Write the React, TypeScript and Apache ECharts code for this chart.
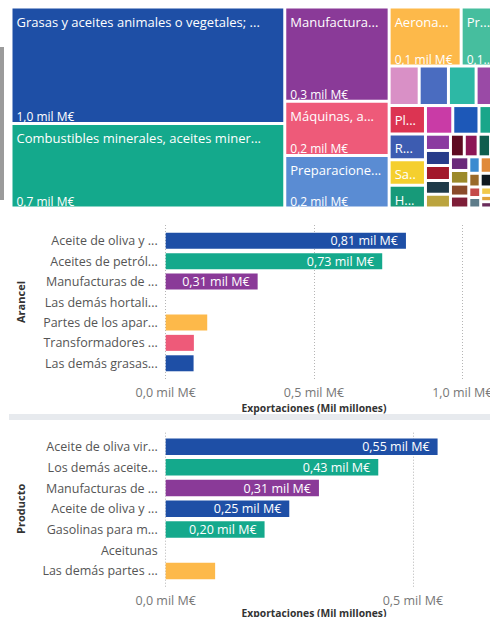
import React, { useEffect, useRef } from 'react';
import * as echarts from 'echarts';

// ---------- Treemap (capítulos) ----------
const treemapNames = [
  'Grasas y aceites animales o vegetales; ...',
  'Combustibles minerales, aceites miner...',
  'Manufactura...',
  'Máquinas, a...',
  'Preparacione...',
  'Aerona...',
  'Pr...',
  'Frutas y frutos comestibles',
  'Fundición, hierro y acero',
  'Cobre y sus manufacturas',
  'Productos químicos inorgánicos',
  'Pl...',
  'R...',
  'Sa...',
  'H...',
  'Vehículos automóviles',
  'Aluminio y sus manufacturas',
  'Papel y cartón',
  'Muebles',
  'Bebidas',
  'Conservas de carne o pescado',
  'Semillas y frutos oleaginosos',
  'Instrumentos de óptica',
  'Caucho y sus manufacturas',
  'Vidrio y sus manufacturas',
  'Jabones',
  'Abonos',
  'Prendas de vestir',
  'Cereales',
  'Pescados',
  'Cacao',
  'Azúcares',
  'Café, té y especias',
  'Juguetes',
  'Calzado',
  'Lana',
  'Algodón',
  'Tabaco',
  'Leche y productos lácteos',
  'Corcho',
  'Manufacturas de cuero',
  'Pieles y cueros',
  'Productos farmacéuticos',
  'Tejidos de punto',
];
const treemapValues = [
  1.02, 0.74, 0.315, 0.181, 0.175, 0.136, 0.079, 0.038, 0.037, 0.035, 0.034,
  0.033, 0.03, 0.0295, 0.0265, 0.025, 0.024, 0.022,
  0.013, 0.012, 0.012, 0.011, 0.011, 0.01, 0.01, 0.009, 0.009, 0.008, 0.008,
  0.007, 0.007, 0.006, 0.006, 0.006, 0.005, 0.005, 0.005, 0.004, 0.004, 0.004,
  0.003, 0.003, 0.003, 0.002,
];
const treemapLabelled = [
  'Grasas y aceites animales o vegetales; ...',
  'Combustibles minerales, aceites miner...',
  'Manufactura...',
  'Máquinas, a...',
  'Preparacione...',
  'Aerona...',
  'Pr...',
  'Pl...',
  'R...',
  'Sa...',
  'H...',
];

// ---------- Bar charts ----------
const arancelCategories = [
  'Aceite de oliva y ...',
  'Aceites de petról...',
  'Manufacturas de ...',
  'Las demás hortali...',
  'Partes de los apar...',
  'Transformadores ...',
  'Las demás grasas...',
];
const arancelValues = [0.81, 0.73, 0.31, 0, 0.14, 0.095, 0.094];

const productoCategories = [
  'Aceite de oliva vir...',
  'Los demás aceite...',
  'Manufacturas de ...',
  'Aceite de oliva y ...',
  'Gasolinas para m...',
  'Aceitunas',
  'Las demás partes ...',
];
const productoValues = [0.55, 0.43, 0.31, 0.25, 0.2, 0, 0.1];

// ---------- Styles ----------
const BLUE = '#1E4FA6';
const TEAL = '#14A98C';
const PURPLE = '#8A3A98';
const PINK = '#EE5A79';
const LIGHTBLUE = '#5A8CD3';
const YELLOW = '#FDB94A';
const CLEAR = 'rgba(0,0,0,0)';

const treemapColors = [
  BLUE, TEAL, PURPLE, PINK, LIGHTBLUE, YELLOW, '#46BE9E', '#D990C6', '#4A6CC0',
  '#2DB8A5', '#9A4AA6', '#DC3452', '#3D5CB1', '#F5CF2E', '#179A79', '#C93BA6',
  '#1D58B8', '#19A68A', '#8B3AA0', '#A2182B', '#273C8A', '#BBA43F', '#1F3A48',
  '#8C1656', '#5D0B22', '#1F2D6B', '#0E5E4E', '#9C8A2A', '#6A2A7A', '#7E1E38',
  '#8A4A2A', '#2E3A5E', '#E08A3A', '#3A8AD0', '#D04A8A', '#101820', '#9A6A2A',
  '#F2C94C', '#5E7C8A', '#C44A4A', '#2F8F6F', '#6B2D5C', '#E2A33B', '#4E5D9C',
];
const arancelColors = [BLUE, TEAL, PURPLE, LIGHTBLUE, YELLOW, PINK, BLUE];
const productoColors = [BLUE, TEAL, PURPLE, BLUE, TEAL, LIGHTBLUE, YELLOW];

const FONT = "'Segoe UI', 'Open Sans', sans-serif";
const PLOT_LEFT = 165.7;
const PLOT_RIGHT = 462.3;
const WIDTH = 490;

const fmt1 = (v: number) => `${v.toFixed(1).replace('.', ',')} mil M€`;
const fmt2 = (v: number) => `${v.toFixed(2).replace('.', ',')} mil M€`;

export default function App() {
  const ref = useRef<HTMLDivElement>(null);

  useEffect(() => {
    if (!ref.current) return;
    const chart = echarts.init(ref.current, null, { renderer: 'svg' });
    const labelled = new Set(treemapLabelled);
    const plotW = PLOT_RIGHT - PLOT_LEFT;
    const prodMax = 0.6;

    const treemapBox = { left: 12.5, top: 8.5, width: 489, height: 198 };
    const axisNameStyle = { fontWeight: 'bold', fontSize: 10.3, color: '#333', fontFamily: FONT };
    const catLabel = { color: '#555', fontSize: 12.5, margin: 8, fontFamily: FONT };
    const tickLabel = { formatter: (v: number) => fmt1(v), color: '#777', fontSize: 12.5, margin: 6, fontFamily: FONT };
    const dotted = { show: true, lineStyle: { type: [1, 2], color: '#B5B5B5', width: 1 } };
    const hidden = { show: false };

    const option: any = {
      animation: false,
      backgroundColor: '#fff',
      textStyle: { fontFamily: FONT },
      graphic: [
        { type: 'rect', shape: { x: 0, y: 47, width: 4, height: 153 }, style: { fill: '#9B9B9B' }, silent: true },
        { type: 'rect', shape: { x: 9, y: 414, width: WIDTH - 9, height: 6 }, style: { fill: '#E7EAEE' }, silent: true },
      ],
      grid: [
        { left: PLOT_LEFT, right: WIDTH - PLOT_RIGHT, top: 230.5, height: 143, outerBoundsMode: 'none', containLabel: false },
        { left: PLOT_LEFT, right: WIDTH - PLOT_RIGHT, top: 225, height: 155, outerBoundsMode: 'none', containLabel: false },
        { left: PLOT_LEFT, right: WIDTH - PLOT_RIGHT, top: 436.3, height: 145, outerBoundsMode: 'none', containLabel: false },
        { left: PLOT_LEFT, width: (plotW * 0.5) / prodMax, top: 432.7, height: 155.5, outerBoundsMode: 'none', containLabel: false },
      ],
      xAxis: [
        {
          gridIndex: 0, type: 'value', min: 0, max: 1,
          axisLine: hidden, axisTick: hidden, axisLabel: hidden, splitLine: hidden,
          name: 'Exportaciones (Mil millones)', nameLocation: 'middle', nameGap: 29.5, nameTextStyle: axisNameStyle,
        },
        {
          gridIndex: 1, type: 'value', min: 0, max: 1, interval: 0.5,
          axisLine: hidden, axisTick: hidden, axisLabel: tickLabel, splitLine: dotted,
        },
        {
          gridIndex: 2, type: 'value', min: 0, max: prodMax,
          axisLine: hidden, axisTick: hidden, axisLabel: hidden, splitLine: hidden,
          name: 'Exportaciones (Mil millones)', nameLocation: 'middle', nameGap: 26.5, nameTextStyle: axisNameStyle,
        },
        {
          gridIndex: 3, type: 'value', min: 0, max: 0.5, interval: 0.5,
          axisLine: hidden, axisTick: hidden, axisLabel: tickLabel, splitLine: dotted,
        },
      ],
      yAxis: [
        {
          gridIndex: 0, type: 'category', inverse: true, data: arancelCategories,
          axisLine: hidden, axisTick: hidden, axisLabel: catLabel,
          name: 'Arancel', nameLocation: 'middle', nameRotate: 90, nameGap: 140,
          nameTextStyle: { ...axisNameStyle, fontSize: 11 },
        },
        { gridIndex: 1, type: 'value', min: 0, max: 1, show: false },
        {
          gridIndex: 2, type: 'category', inverse: true, data: productoCategories,
          axisLine: hidden, axisTick: hidden, axisLabel: catLabel,
          name: 'Producto', nameLocation: 'middle', nameRotate: 90, nameGap: 140,
          nameTextStyle: { ...axisNameStyle, fontSize: 11 },
        },
        { gridIndex: 3, type: 'value', min: 0, max: 1, show: false },
      ],
      series: [
        {
          type: 'treemap', ...treemapBox,
          roam: false, nodeClick: false, breadcrumb: { show: false },
          itemStyle: { gapWidth: 3, borderWidth: 0, borderColor: '#fff' },
          levels: [{ itemStyle: { gapWidth: 3, borderWidth: 0, borderColor: '#fff' } }],
          label: {
            show: true, position: 'insideTopLeft', distance: 0, padding: [8, 5, 0, 4], lineHeight: 10,
            color: '#fff', fontSize: 13, fontFamily: FONT, overflow: 'truncate', ellipsis: '...',
            formatter: (p: any) => (labelled.has(p.name) ? p.name : ''),
          },
          data: treemapNames.map((name, i) => ({ name, value: treemapValues[i], itemStyle: { color: treemapColors[i] } })),
        },
        {
          type: 'treemap', ...treemapBox, silent: true, z: 3,
          roam: false, nodeClick: false, breadcrumb: { show: false },
          itemStyle: { gapWidth: 3, borderWidth: 0, color: CLEAR, borderColor: CLEAR },
          levels: [
            { itemStyle: { gapWidth: 3, borderWidth: 0, color: CLEAR, borderColor: CLEAR } },
            { itemStyle: { borderWidth: 0, color: CLEAR, borderColor: CLEAR } },
          ],
          label: {
            show: true, position: 'insideBottomLeft', distance: 0, padding: [0, 5, 0, 4], lineHeight: 11,
            color: '#fff', fontSize: 12, fontFamily: FONT, overflow: 'truncate', ellipsis: '...',
            formatter: (p: any) => (p.value >= 0.07 ? fmt1(p.value) : ''),
          },
          data: treemapNames.map((name, i) => ({ name, value: treemapValues[i], itemStyle: { color: CLEAR, borderColor: CLEAR } })),
        },
        {
          type: 'bar', xAxisIndex: 0, yAxisIndex: 0, barWidth: 16,
          data: arancelValues.map((v, i) => ({ value: v, itemStyle: { color: arancelColors[i] } })),
          label: {
            show: true, position: 'insideRight', distance: 8, color: '#fff', fontSize: 12.5, fontFamily: FONT,
            formatter: (p: any) => (p.value >= 0.25 ? fmt2(p.value) : ''),
          },
        },
        {
          type: 'bar', xAxisIndex: 2, yAxisIndex: 2, barWidth: 16.5,
          data: productoValues.map((v, i) => ({ value: v, itemStyle: { color: productoColors[i] } })),
          label: {
            show: true, position: 'insideRight', distance: 8, color: '#fff', fontSize: 12.5, fontFamily: FONT,
            formatter: (p: any) => (p.value >= 0.15 ? fmt2(p.value) : ''),
          },
        },
      ],
    };

    chart.setOption(option);
    return () => chart.dispose();
  }, []);

  return (
    <div
      ref={ref}
      style={{ position: 'absolute', left: 0, top: 0, width: WIDTH, height: 617, background: '#fff' }}
    />
  );
}
